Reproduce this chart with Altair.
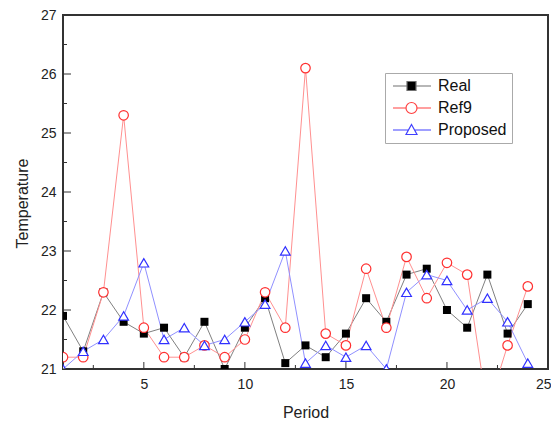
import altair as alt
import pandas as pd

PERIOD = list(range(1, 25))
REAL = [21.9, 21.3, 22.3, 21.8, 21.6, 21.7, 21.2, 21.8, 21.0, 21.7, 22.2, 21.1,
        21.4, 21.2, 21.6, 22.2, 21.8, 22.6, 22.7, 22.0, 21.7, 22.6, 21.6, 22.1]
REF9 = [21.2, 21.2, 22.3, 25.3, 21.7, 21.2, 21.2, 21.4, 21.2, 21.5, 22.3, 21.7,
        26.1, 21.6, 21.4, 22.7, 21.7, 22.9, 22.2, 22.8, 22.6, 20.3, 21.4, 22.4]
PROPOSED = [21.0, 21.3, 21.5, 21.9, 22.8, 21.5, 21.7, 21.4, 21.5, 21.8, 22.1, 23.0,
            21.1, 21.4, 21.2, 21.4, 21.0, 22.3, 22.6, 22.5, 22.0, 22.2, 21.8, 21.1]
SERIES = ["Real", "Ref9", "Proposed"]

Y_MAJOR = [21, 22, 23, 24, 25, 26, 27]
Y_MINOR = [21.5, 22.5, 23.5, 24.5, 25.5, 26.5]
X_MAJOR = [5, 10, 15, 20, 25]
X_MINOR = [2.5, 7.5, 12.5, 17.5, 22.5]

FONT = "Liberation Sans"
TXT = "#222222"

rows = []
for name, vals in zip(SERIES, [REAL, REF9, PROPOSED]):
    for p, v in zip(PERIOD, vals):
        rows.append({"period": p, "value": v, "series": name})
df = pd.DataFrame(rows)

xs = alt.Scale(domain=[1, 25], nice=False, zero=False)
ys = alt.Scale(domain=[21, 27], nice=False, zero=False)

xaxis = alt.Axis(values=X_MAJOR, ticks=False, tickSize=0, domain=False, grid=False,
                 labelPadding=8, labelFlush=True, labelFlushOffset=3, labelFontSize=14,
                 labelFont=FONT, labelColor=TXT, title="Period", titleFont=FONT,
                 titleFontSize=16, titleFontWeight="normal", titleColor=TXT, titlePadding=13)
yaxis = alt.Axis(values=Y_MAJOR, ticks=False, tickSize=0, domain=False, grid=False,
                 labelPadding=7, labelFontSize=14, labelFont=FONT, labelColor=TXT,
                 title="Temperature", titleFont=FONT, titleFontSize=16,
                 titleFontWeight="normal", titleColor=TXT, titlePadding=10, titleY=188)


def X(field):
    return alt.X(field, type="quantitative", scale=xs, axis=xaxis)


def Y(field):
    return alt.Y(field, type="quantitative", scale=ys, axis=yaxis)


line_colors = {"Real": "#808080", "Ref9": "#ff9090", "Proposed": "#9090ff"}
marker_cfg = {
    "Real": dict(shape="square", filled=True, color="#000000", size=64),
    "Ref9": dict(shape="circle", filled=True, fill="white", stroke="#ff3030", size=90, strokeWidth=1.2),
    "Proposed": dict(shape="triangle-up", filled=True, fill="white", stroke="#3030ff", size=95, strokeWidth=1.2),
}

layers = []
for s in SERIES:
    layers.append(
        alt.Chart(df).transform_filter(alt.datum.series == s)
        .mark_line(clip=True, color=line_colors[s], strokeWidth=1)
        .encode(x=X("period"), y=Y("value"))
    )
for s in SERIES:
    layers.append(
        alt.Chart(df).transform_filter(alt.datum.series == s)
        .mark_point(clip=True, opacity=1, **marker_cfg[s])
        .encode(x=X("period"), y=Y("value"))
    )

# legend symbols: line segment + marker (custom paths, 5px per unit at size 100)
PATHS = [
    "M-1,0H1.8M3.6,0H6.6M1.8,-0.9H3.6V0.9H1.8Z",
    "M-1,0H1.6M3.8,0H6.6M3.8,0A1.1,1.1 0 1 1 1.6,0A1.1,1.1 0 1 1 3.8,0Z",
    "M-1,0H2.1M3.3,0H6.6M2.7,-1.1L3.8,0.9H1.6Z",
]
leg = alt.Legend(title=None, orient="none", legendX=322, legendY=58, padding=5,
                 strokeColor="#aaaaaa", fillColor="white", symbolSize=100,
                 symbolStrokeWidth=1.2, symbolOpacity=1, labelOffset=32, labelFontSize=16,
                 labelFont=FONT, labelColor="#111111", rowPadding=6)
layers.append(
    alt.Chart(df).transform_filter("datum.value > 100")
    .mark_point(filled=True, opacity=1)
    .encode(x=X("period"), y=Y("value"),
            shape=alt.Shape("series:N", scale=alt.Scale(domain=SERIES, range=PATHS), legend=leg),
            stroke=alt.Stroke("series:N", scale=alt.Scale(domain=SERIES, range=["#707070", "#ff4040", "#4040ff"]), legend=leg),
            fill=alt.Fill("series:N", scale=alt.Scale(domain=SERIES, range=["#000000", "transparent", "transparent"]), legend=leg))
)

# inward tick marks
layers.append(alt.Chart(pd.DataFrame({"v": Y_MAJOR})).mark_rule(color="#333333", strokeWidth=1)
              .encode(y=Y("v"), x=alt.value(0), x2=alt.value(8)))
layers.append(alt.Chart(pd.DataFrame({"v": Y_MINOR})).mark_rule(color="#333333", strokeWidth=1)
              .encode(y=Y("v"), x=alt.value(0), x2=alt.value(4)))
layers.append(alt.Chart(pd.DataFrame({"v": X_MAJOR})).mark_rule(color="#333333", strokeWidth=1)
              .encode(x=X("v"), y=alt.value(354), y2=alt.value(347)))
layers.append(alt.Chart(pd.DataFrame({"v": X_MINOR})).mark_rule(color="#333333", strokeWidth=1)
              .encode(x=X("v"), y=alt.value(354), y2=alt.value(350)))

chart = alt.layer(*layers).properties(
    width=485, height=354,
    autosize=alt.AutoSizeParams(type="none"),
    padding={"left": 55, "top": 7, "right": 3, "bottom": 50},
).configure_view(stroke="#333333", strokeWidth=2)

chart.save("out.html", embed_options={"renderer": "svg", "actions": False})
